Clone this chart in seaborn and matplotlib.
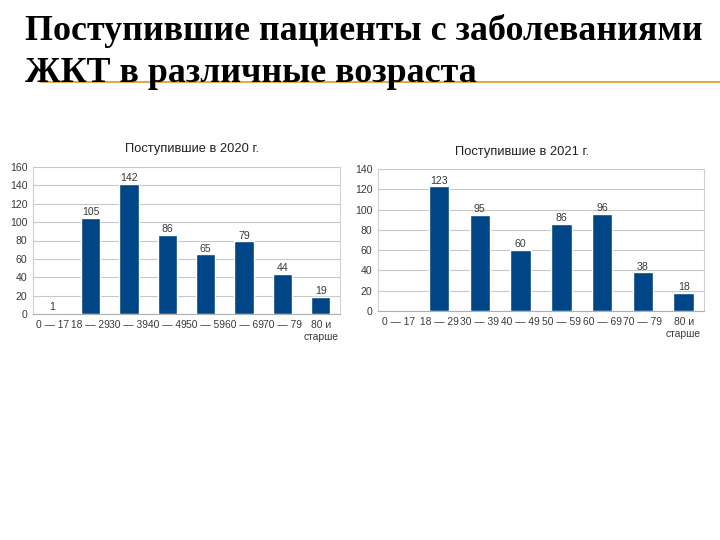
import matplotlib
matplotlib.use("Agg")
import matplotlib.pyplot as plt
import seaborn as sns
import numpy as np
from matplotlib.lines import Line2D

sns.set_theme(style="white")
plt.rcParams['font.family'] = ['Liberation Sans', 'DejaVu Sans']

categories_2020 = ["0 — 17", "18 — 29", "30 — 39", "40 — 49", "50 — 59", "60 — 69", "70 — 79", "80 и\nстарше"]
values_2020 = [1, 105, 142, 86, 65, 79, 44, 19]
categories_2021 = ["0 — 17", "18 — 29", "30 — 39", "40 — 49", "50 — 59", "60 — 69", "70 — 79", "80 и\nстарше"]
values_2021 = [0, 123, 95, 60, 86, 96, 38, 18]

title_main = "Поступившие пациенты с заболеваниями\nЖКТ в различные возраста"
title_2020 = "Поступившие в 2020 г."
title_2021 = "Поступившие в 2021 г."

BAR = "#004586"
W, H = 720, 540
fig = plt.figure(figsize=(7.2, 5.4), dpi=100)

def rect(x0, y0, x1, y1):
    return [x0 / W, 1 - y1 / H, (x1 - x0) / W, (y1 - y0) / H]

def draw(ax, cats, vals, ymax):
    sns.barplot(x=cats, y=vals, color=BAR, width=0.5, ax=ax, saturation=1)
    ax.set_ylim(0, ymax)
    ax.set_xlim(-0.5, len(cats) - 0.5)
    ax.set_yticks(np.arange(0, ymax + 1, 20))
    ax.yaxis.grid(True, color="#c8c8c8", linewidth=0.8)
    ax.set_axisbelow(True)
    ax.spines["top"].set_visible(False)
    for s in ["left", "right"]:
        ax.spines[s].set_color("#d0d0d0")
        ax.spines[s].set_linewidth(0.8)
    ax.spines["bottom"].set_color("#b0b0b0")
    ax.spines["bottom"].set_linewidth(0.8)
    ax.tick_params(axis="y", labelsize=7.6, colors="#3a3a3a", length=0, pad=4)
    ax.tick_params(axis="x", which="major", labelsize=7.4, colors="#3a3a3a", length=0, pad=4)
    ax.set_xticks(np.arange(-0.5, len(cats), 1), minor=True)
    ax.tick_params(axis="x", which="minor", length=4, color="#b0b0b0", width=0.8)
    ax.set_xlabel("")
    ax.set_ylabel("")
    for lbl in ax.get_xticklabels():
        lbl.set_linespacing(1.3)
    for i, v in enumerate(vals):
        if v > 0:
            ax.text(i, v + ymax * 0.005, str(v), ha="center", va="bottom",
                    fontsize=7.6, color="#3a3a3a")

ax1 = fig.add_axes(rect(33, 167, 340, 314))
draw(ax1, categories_2020, values_2020, 160)
ax2 = fig.add_axes(rect(378, 169, 704, 311))
draw(ax2, categories_2021, values_2021, 140)

fig.text(192 / W, 1 - 149 / H, title_2020, ha="center", va="center",
         fontsize=9.3, color="#222222")
fig.text(522 / W, 1 - 152 / H, title_2021, ha="center", va="center",
         fontsize=9.3, color="#222222")

fig.add_artist(Line2D([40 / W, 1.0], [1 - 82 / H, 1 - 82 / H],
                      transform=fig.transFigure, color="#E0A850", linewidth=1.5,
                      zorder=0))

fig.text(25 / W, 1 - 14 / H, title_main, ha="left", va="top",
         family=["Liberation Serif", "DejaVu Serif"], fontweight="bold",
         fontsize=25.8, color="black", linespacing=1.35, zorder=2)

fig.savefig("out.png", dpi=100, facecolor="white")
